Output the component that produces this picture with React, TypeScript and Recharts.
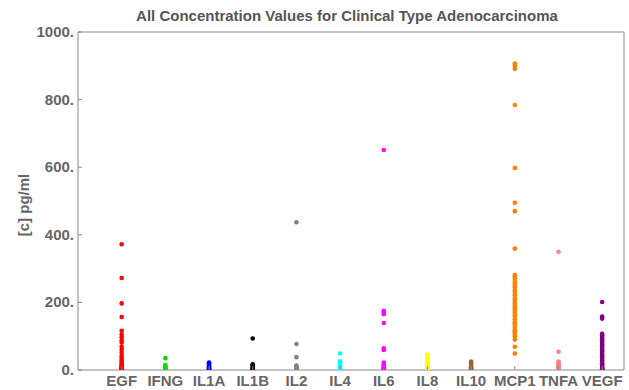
import React from 'react';
import { ScatterChart, Scatter, XAxis, YAxis, ReferenceLine } from 'recharts';

const categories = ['EGF', 'IFNG', 'IL1A', 'IL1B', 'IL2', 'IL4', 'IL6', 'IL8', 'IL10', 'MCP1', 'TNFA', 'VEGF'];

const egf = [372, 272, 197, 157, 116, 105, 97, 88, 81, 69, 60, 51, 42, 36, 30, 25, 20, 15, 12, 10, 8, 6, 5, 4, 3, 2, 1.5, 1, 0.5];
const ifng = [35, 15, 12, 8, 5, 3, 2, 1];
const il1a = [22, 20, 18, 15, 12, 10, 8, 5, 3, 2, 1];
const il1b = [93, 17, 15, 12, 8, 5, 3, 1];
const il2 = [437, 77, 38, 13, 10, 8, 5, 3, 2, 1];
const il4 = [49, 26, 22, 13, 10, 6, 3, 1];
const il6 = [651, 175, 170, 165, 139, 64, 59, 22, 18, 15, 12, 8, 5, 3, 1];
const il8 = [46, 40, 35, 25, 20, 15, 10, 6, 3, 1];
const il10 = [25, 20, 15, 10, 8, 5, 3, 1];
const mcp1 = [907, 900, 891, 784, 598, 495, 470, 359, 281, 276, 270, 262, 255, 249, 244, 236, 228, 221, 212, 205, 198, 192, 187, 182, 176, 170, 164, 158, 150, 143, 138, 133, 127, 120, 115, 110, 104, 99, 90, 69, 49];
const tnfa = [350, 54, 25, 22, 18, 15, 12, 10, 8, 5, 3, 1];
const vegf = [201, 158, 152, 107, 103, 98, 93, 88, 83, 78, 73, 68, 63, 58, 53, 48, 43, 38, 33, 28, 24, 20, 16, 12, 9, 6, 4, 2, 1];

const seriesValues = [egf, ifng, il1a, il1b, il2, il4, il6, il8, il10, mcp1, tnfa, vegf];
const colors = ['#ff0000', '#00e000', '#0000ff', '#000000', '#808080', '#00ffff', '#ff00ff', '#ffff00', '#996633', '#ff8000', '#ff8080', '#800080'];

const yTicks = [0, 200, 400, 600, 800, 1000];
const yTickLabels = ['0.', '200.', '400.', '600.', '800.', '1000.'];
const xTicks = categories.map((_, i) => i);

const title = 'All Concentration Values for Clinical Type Adenocarcinoma';
const yLabel = '[c] pg/ml';

const FONT = '"Liberation Sans", Arial, sans-serif';
const TEXT = '#666666';
const AXIS = '#888888';

function XTick(props: any) {
  const { x, y, payload } = props;
  return (
    <g>
      <line x1={x} x2={x} y1={y} y2={y - 4} stroke={AXIS} strokeWidth={1} />
      <text x={x} y={y + 16} textAnchor="middle" fontFamily={FONT} fontSize={15} fontWeight="bold" fill={TEXT}>
        {categories[payload.value]}
      </text>
    </g>
  );
}

function YTick(props: any) {
  const { x, y, payload } = props;
  const idx = yTicks.indexOf(payload.value);
  return (
    <g>
      <line x1={x} x2={x + 4} y1={y} y2={y} stroke={AXIS} strokeWidth={1} />
      <text x={x - 4} y={y + 5} textAnchor="end" fontFamily={FONT} fontSize={15} fontWeight="bold" fill={TEXT}>
        {yTickLabels[idx]}
      </text>
    </g>
  );
}

function YLabel() {
  return (
    <text x={23} y={205} transform="rotate(-90 23 205)" textAnchor="middle" dominantBaseline="central" fontFamily={FONT} fontSize={15} fontWeight="bold" fill={TEXT}>
      {yLabel}
    </text>
  );
}

function Dot(props: any) {
  const { cx, cy, fill } = props;
  return <circle cx={cx} cy={cy} r={2.3} fill={fill} />;
}

export default function App() {
  return (
    <div style={{ position: 'absolute', left: 0, top: 0, width: 629, height: 390, background: '#fff' }}>
      <div style={{ position: 'absolute', left: 77, width: 540, top: 7, textAlign: 'center', fontFamily: FONT, fontSize: 15, fontWeight: 'bold', color: '#555', whiteSpace: 'nowrap' }}>
        {title}
      </div>
      <ScatterChart width={629} height={390} margin={{ top: 32, right: 5, bottom: 0, left: 0 }}>
        <XAxis
          type="number"
          dataKey="x"
          domain={[-1, 11.5]}
          ticks={xTicks}
          allowDataOverflow
          height={20}
          tickSize={0}
          tickMargin={0}
          tickLine={false}
          tick={<XTick />}
          axisLine={{ stroke: AXIS }}
          interval={0}
        />
        <YAxis
          type="number"
          dataKey="y"
          domain={[0, 1000]}
          ticks={yTicks}
          allowDataOverflow
          width={78}
          tickSize={0}
          tickMargin={0}
          tickLine={false}
          tick={<YTick />}
          axisLine={{ stroke: AXIS }}
          interval={0}
          label={<YLabel />}
        />
        <ReferenceLine y={1000} stroke={AXIS} />
        <ReferenceLine x={11.5} stroke={AXIS} />
        {seriesValues.map((vals, i) => (
          <Scatter
            key={categories[i]}
            name={categories[i]}
            data={vals.map((v) => ({ x: i, y: v }))}
            fill={colors[i]}
            shape={<Dot />}
            isAnimationActive={false}
          />
        ))}
      </ScatterChart>
    </div>
  );
}
